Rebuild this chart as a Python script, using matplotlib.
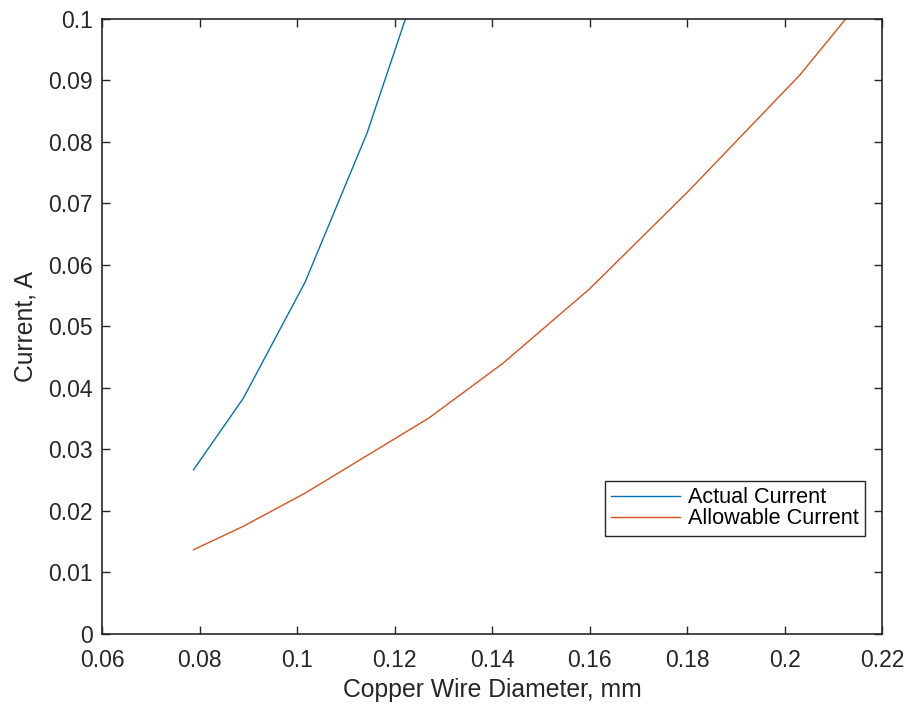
import matplotlib
matplotlib.use('Agg')
import matplotlib.pyplot as plt

# AWG 40 .. 36 / 40 .. 31 diameters (mm)
d_actual = [0.0787, 0.0889, 0.1016, 0.1143, 0.1270]
i_actual = [0.0267, 0.0383, 0.0572, 0.0814, 0.1113]

d_allow = [0.0787, 0.0889, 0.1016, 0.1143, 0.1270, 0.1422, 0.1600, 0.1803, 0.2032, 0.2261]
i_allow = [0.0137, 0.0175, 0.0229, 0.0290, 0.0351, 0.0440, 0.0561, 0.0720, 0.0909, 0.1131]

xticks = [0.06, 0.08, 0.1, 0.12, 0.14, 0.16, 0.18, 0.2, 0.22]
xtick_labels = ['0.06', '0.08', '0.1', '0.12', '0.14', '0.16', '0.18', '0.2', '0.22']
yticks = [0, 0.01, 0.02, 0.03, 0.04, 0.05, 0.06, 0.07, 0.08, 0.09, 0.1]
ytick_labels = ['0', '0.01', '0.02', '0.03', '0.04', '0.05', '0.06', '0.07', '0.08', '0.09', '0.1']

plt.rcParams['font.family'] = ['Liberation Sans', 'DejaVu Sans']

fig = plt.figure(figsize=(9.1, 7.11), dpi=100)
ax = fig.add_axes([0.1126, 0.1083, 0.8566, 0.8654])

ax.plot(d_actual, i_actual, color='#0072BD', lw=1.0, label='Actual Current')
ax.plot(d_allow, i_allow, color='#D95319', lw=1.0, label='Allowable Current')

ax.set_xlim(0.06, 0.22)
ax.set_ylim(0, 0.1)
ax.set_xticks(xticks)
ax.set_xticklabels(xtick_labels)
ax.set_yticks(yticks)
ax.set_yticklabels(ytick_labels)

ax.tick_params(direction='in', top=True, right=True, length=6, width=1.0,
               labelsize=16.5, color='#262626', labelcolor='#262626')
ax.tick_params(axis='x', pad=11)
ax.tick_params(axis='y', pad=7)
for s in ax.spines.values():
    s.set_color('#262626')
    s.set_linewidth(1.2)

ax.set_xlabel('Copper Wire Diameter, mm', fontsize=17.8, color='#262626', labelpad=4)
ax.set_ylabel('Current, A', fontsize=17.8, color='#262626', labelpad=8)

leg = ax.legend(loc='lower right', bbox_to_anchor=(0.978, 0.16), borderaxespad=0,
                fontsize=15.6, fancybox=False, framealpha=1, handlelength=3.2,
                handletextpad=0.35, borderpad=0.28, labelspacing=0.0)
leg.get_frame().set_edgecolor('#262626')
leg.get_frame().set_linewidth(1.0)

fig.savefig('out.png', dpi=100)
